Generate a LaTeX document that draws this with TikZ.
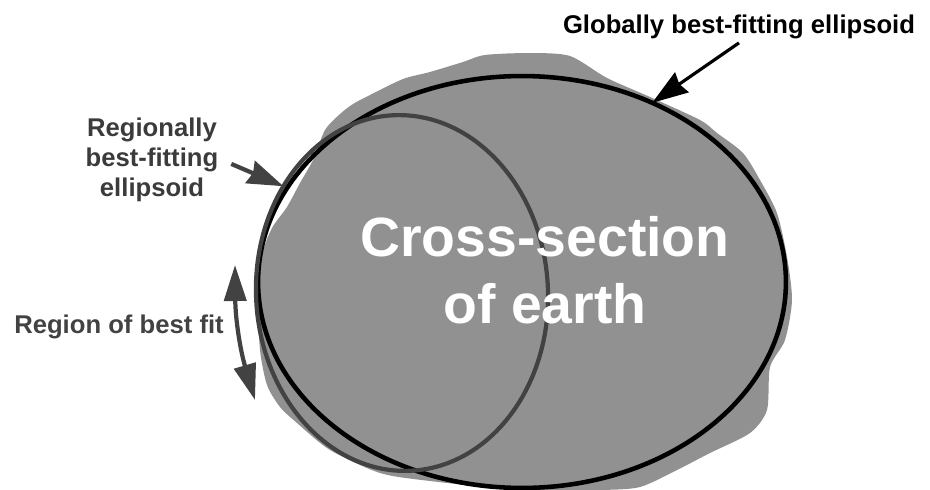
\documentclass[tikz,border=0pt]{standalone}
\usepackage{fontspec}
\setmainfont{Liberation Sans}
\usepackage{xcolor}
\usetikzlibrary{arrows.meta,shapes.geometric}
\definecolor{earthgray}{RGB}{145,145,145}
\definecolor{fitgray}{RGB}{66,66,66}
\tikzset{
	tag/.style={font=\bfseries\fontsize{14.6}{17}\selectfont, align=center, inner sep=2pt},
	shell/.style={ellipse, draw, inner sep=0pt, outer sep=0pt},
	pointer/.style={line width=#1, -{Stealth[length=0.72cm,width=0.48cm,inset=0.06cm]}},
}

\begin{document}
\begin{tikzpicture}[x=0.02cm, y=-0.02cm]
	\useasboundingbox (0,0) rectangle (930,490);

	% the earth itself, a lumpy section
	\fill[earthgray] plot[smooth cycle, tension=0.45] coordinates {
		(258,300) (262,255) (272,228) (287,207) (300,183) (313,160)
		(325,130) (340,114) (353,104) (370,95) (403,79) (430,72)
		(463,62) (485,55) (530,53) (570,56) (607,78) (650,97)
		(700,120) (717,133) (743,153) (760,180) (777,213) (787,257)
		(792,300) (785,340) (770,367) (767,410) (750,433) (710,453)
		(677,470) (640,487) (600,490) (520,490) (430,481) (380,473)
		(330,450) (297,423) (280,407) (267,385) (260,350)};

	% the two ellipsoids
	\node[shell, line width=2.6pt, minimum width=10.56cm, minimum height=8.24cm] (globe) at (522,282) {};
	\node[shell, draw=fitgray, line width=2.4pt, minimum width=5.84cm, minimum height=7.12cm, rotate=3] (regional) at (402,293) {};

	\node[text=white, font=\bfseries\fontsize{31.5}{38}\selectfont, align=center] (earth) at (545,270) {Cross-section\\of earth};

	% labels
	\node[tag] (glabel) at (739,27) {Globally best-fitting ellipsoid};
	\node[tag, text=fitgray!90!black] (rlabel) at (152,160) {Regionally\\best-fitting\\ellipsoid};
	\node[tag, text=fitgray] (fitlabel) at (119,327) {Region of best fit};

	\coordinate (fittop) at (235,265);
	\coordinate (fitbot) at (255,400);

	\draw[pointer=1.8pt] (glabel.south) -- (globe.54);
	\draw[pointer=2.4pt, fitgray, shorten <=0.2cm] (rlabel.east) -- (regional.135);
	\draw[fitgray, line width=2.4pt, {Triangle[length=0.72cm,width=0.44cm]}-{Triangle[length=0.72cm,width=0.44cm]}]
		(fittop) to[bend right=8] (fitbot);

\end{tikzpicture}
\end{document}
